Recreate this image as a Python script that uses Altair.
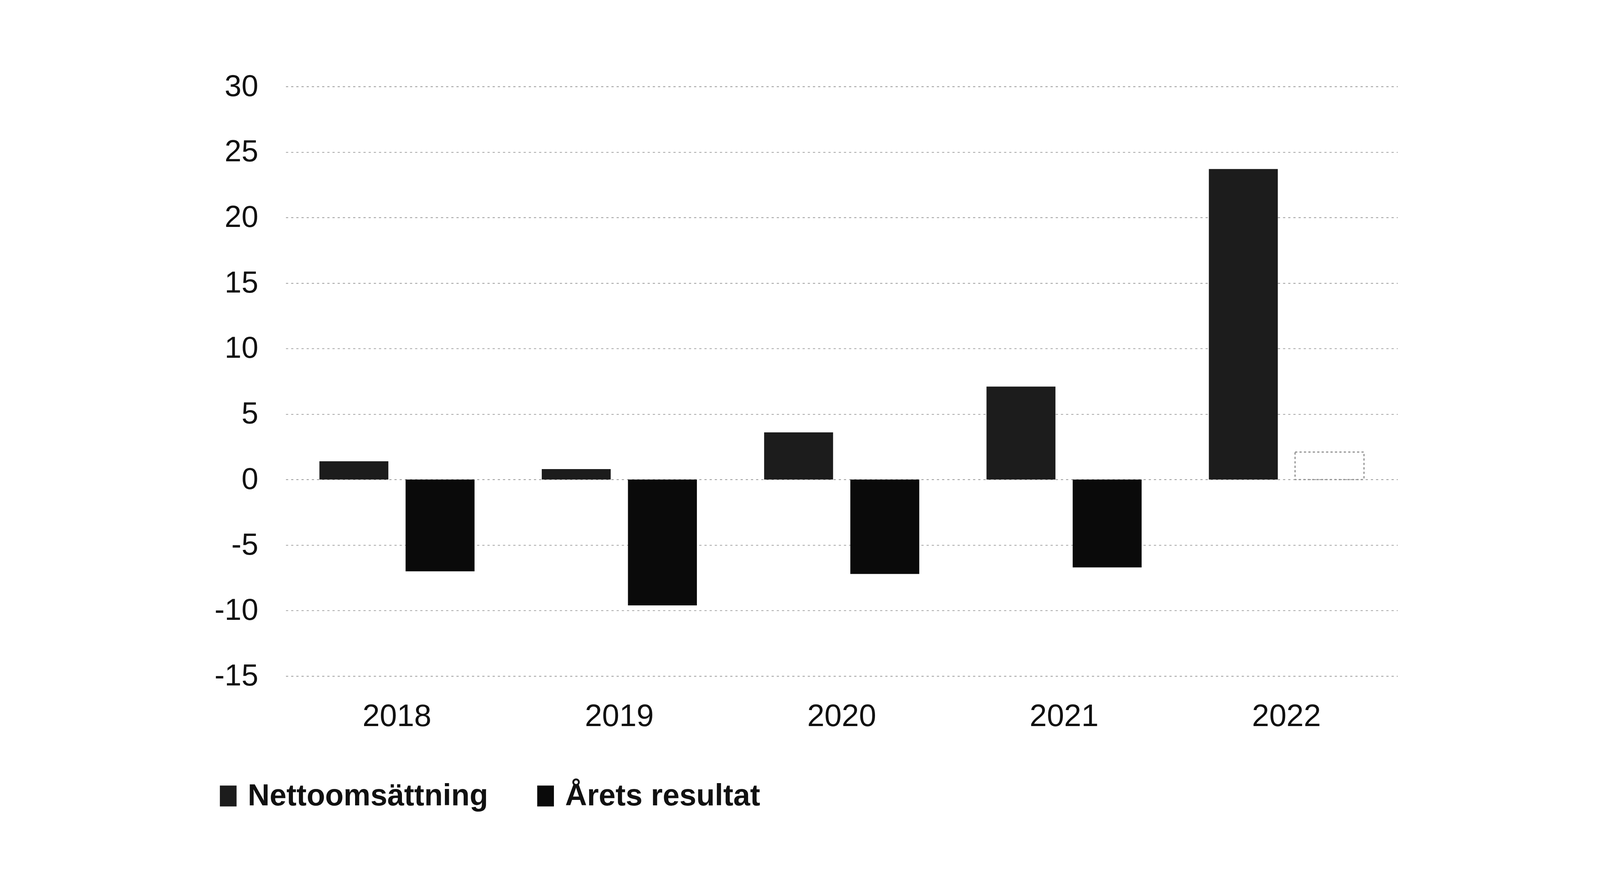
import altair as alt
import pandas as pd

years = ["2018", "2019", "2020", "2021", "2022"]
netto = [1.4, 0.8, 3.6, 7.1, 23.7]
resultat = [-7.0, -9.6, -7.2, -6.7, 2.1]
series_names = ["Nettoomsättning", "Årets resultat"]
y_ticks = [-15, -10, -5, 0, 5, 10, 15, 20, 25, 30]

rows = []
for i, yr in enumerate(years):
    rows.append({"year": yr, "series": series_names[0], "value": netto[i]})
    rows.append({"year": yr, "series": series_names[1], "value": resultat[i]})
df = pd.DataFrame(rows)

faded = (alt.datum.series == "Årets resultat") & (alt.datum.value > 0)

FONT = "Liberation Sans, Arial, sans-serif"

bars = alt.Chart(df).mark_bar(stroke="#8a8a8a").encode(
    x=alt.X(
        "year:N", sort=years,
        scale=alt.Scale(paddingInner=0, paddingOuter=0),
        axis=alt.Axis(title=None, labelAngle=0, ticks=False, domain=False,
                      labelPadding=69, labelFontSize=84, labelColor="#111111",
                      labelFont=FONT, labelLimit=0, grid=False),
    ),
    xOffset=alt.XOffset(
        "series:N", sort=series_names,
        scale=alt.Scale(paddingInner=0.2, paddingOuter=0.39),
    ),
    y=alt.Y(
        "value:Q",
        scale=alt.Scale(domain=[-15, 30], nice=False, zero=False),
        axis=alt.Axis(values=y_ticks, title=None, ticks=False, domain=False,
                      labelPadding=75, labelFontSize=82, labelColor="#111111",
                      labelFont=FONT, gridDash=[6, 8], gridColor="#9a9a9a",
                      gridWidth=2, labelExpr="toString(datum.value)"),
    ),
    color=alt.Color(
        "series:N", sort=series_names,
        scale=alt.Scale(domain=series_names, range=["#1c1c1c", "#0a0a0a"]),
        legend=alt.Legend(
            orient="none", legendX=-197, legendY=1882, direction="horizontal",
            title=None, labelFontSize=82, labelFontWeight="bold",
            labelFont=FONT, labelColor="#111111", labelLimit=0,
            symbolType="M-0.8,-1L0.8,-1L0.8,1L-0.8,1Z",
            symbolSize=3200, labelOffset=12, columnPadding=114,
            symbolStrokeWidth=0, symbolOpacity=1,
        ),
    ),
    fillOpacity=alt.condition(faded, alt.value(0), alt.value(1)),
    strokeWidth=alt.condition(faded, alt.value(3), alt.value(0)),
    strokeDash=alt.condition(faded, alt.value([6, 6]), alt.value([1, 0])),
)

chart = bars.properties(
    width=3013, height=1598,
    autosize=alt.AutoSizeParams(type="none"),
    padding={"left": 766, "top": 161, "right": 540, "bottom": 460},
    background="white",
).configure_view(stroke=None)

chart.save("out.html", embed_options={"renderer": "svg", "actions": False})
